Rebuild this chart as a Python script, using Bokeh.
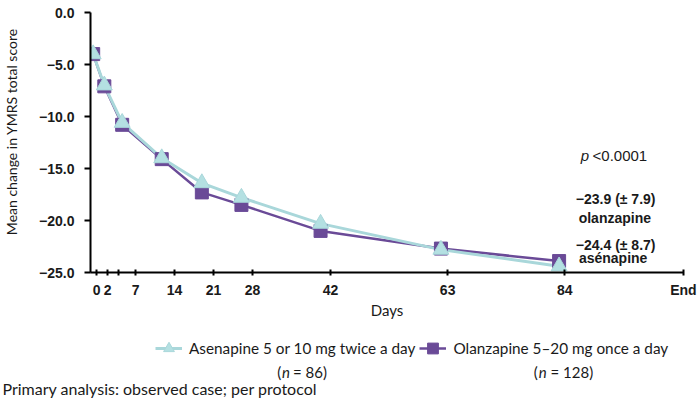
from bokeh.plotting import figure
from bokeh.layouts import column
from bokeh.models import FixedTicker, Label, Legend, LegendItem, Range1d
from bokeh.embed import file_html
from bokeh.resources import INLINE

# ---- data ----
days = [-0.6, 1.4, 4.6, 11.7, 18.9, 26.0, 40.2, 61.8, 83.0]
olanzapine = [-4.0, -7.1, -10.8, -14.1, -17.3, -18.5, -21.0, -22.7, -23.9]
asenapine = [-4.0, -7.0, -10.6, -14.0, -16.4, -17.8, -20.3, -22.8, -24.4]
END_DAY = 105.3
x_ticks = [0, 2, 4, 7, 14, 21, 28, 42, 63, 84, END_DAY]
x_tick_labels = ["0", "2", "", "7", "14", "21", "28", "42", "63", "84", "End"]
y_ticks = [0, -5, -10, -15, -20, -25]
y_tick_labels = ["0.0", "\u22125.0", "\u221210.0", "\u221215.0", "\u221220.0", "\u221225.0"]
series_names = ["Asenapine 5 or 10 mg twice a day", "Olanzapine 5\u201320 mg once a day"]
series_n = ["86", "128"]

PURPLE = "#6a4a97"
TEAL_LINE = "#a9d7da"
TEAL_FILL = "#b4e0e2"
TXT = "#1a1a1a"
BOLD = "Liberation Sans"
SANS = "Lato"

# ---------------- main chart ----------------
p = figure(width=697, height=321, output_backend="svg", toolbar_location=None,
           x_range=Range1d(-1.08, END_DAY + 0.02), y_range=Range1d(-25, 0),
           min_border_left=90, min_border_right=14, min_border_top=12, min_border_bottom=44)
p.frame_align = False
p.outline_line_color = None
p.grid.visible = False

for ax in (p.xaxis[0], p.yaxis[0]):
    ax.axis_line_width = 2
    ax.axis_line_color = "black"
    ax.major_tick_line_width = 2
    ax.major_tick_line_color = "black"
    ax.minor_tick_line_color = None
    ax.major_label_text_font = BOLD
    ax.major_label_text_font_style = "bold"
    ax.major_label_text_font_size = "14px"
    ax.major_label_text_color = TXT
    ax.axis_label_text_font = SANS
    ax.axis_label_text_font_style = "normal"
    ax.axis_label_text_font_size = "15px"
    ax.axis_label_text_color = TXT

p.yaxis.ticker = FixedTicker(ticks=y_ticks)
p.yaxis.major_label_overrides = {t: l for t, l in zip(y_ticks, y_tick_labels)}
p.yaxis.major_tick_in = 0
p.yaxis.major_tick_out = 6
p.yaxis.major_label_standoff = 10
p.yaxis.axis_label = "\u00a0" * 6 + "Mean change in YMRS total score"
p.yaxis.axis_label_text_font_size = "14px"
p.yaxis.axis_label_standoff = 16

p.xaxis.ticker = FixedTicker(ticks=x_ticks)
p.xaxis.major_label_overrides = {t: l for t, l in zip(x_ticks, x_tick_labels)}
p.xaxis.major_tick_in = 3
p.xaxis.major_tick_out = 3
p.xaxis.major_label_standoff = 6
p.xaxis.axis_label = "Days"
p.xaxis.axis_label_standoff = 0

p.line(days, olanzapine, line_color=PURPLE, line_width=2.5)
p.line(days, asenapine, line_color=TEAL_LINE, line_width=3)
p.scatter(days, olanzapine, marker="square", size=13, fill_color=PURPLE, line_color=PURPLE)
p.scatter(days, asenapine, marker="triangle", size=16, fill_color=TEAL_FILL, line_color=TEAL_LINE)


def lab(fig, x, y, text, font=BOLD, size="14px", style="bold", align="left", angle=0.0):
    fig.add_layout(Label(x=x, y=y, text=text, text_font=font, text_font_size=size,
                         text_font_style=style, text_align=align, text_baseline="middle",
                         text_color=TXT, angle=angle))


lab(p, 86.9, -13.77, "p", style="italic", size="15px")
lab(p, 89.0, -13.77, "<0.0001", style="normal", size="15px")
lab(p, 86.0, -17.9, "\u221223.9 (\u00b1 7.9)")
lab(p, 93.0, -19.78, "olanzapine", align="center")
lab(p, 86.0, -22.36, "\u221224.4 (\u00b1 8.7)")
lab(p, 86.55, -23.56, "asénapine")

# ---------------- legend + footnote strip ----------------
H2 = 80
q = figure(width=697, height=H2, output_backend="svg", toolbar_location=None,
           x_range=Range1d(0, 697), y_range=Range1d(H2, 0),
           x_axis_location=None, y_axis_location=None,
           min_border_left=0, min_border_right=0, min_border_top=0, min_border_bottom=0)
q.frame_align = False
q.outline_line_color = None
q.grid.visible = False

nan = [float("nan")]
as_line = q.line(nan, nan, line_color=TEAL_LINE, line_width=3)
as_pts = q.scatter(nan, nan, marker="triangle", fill_color=TEAL_FILL, line_color=TEAL_LINE)
ol_line = q.line(nan, nan, line_color=PURPLE, line_width=2.5)
ol_pts = q.scatter(nan, nan, marker="square", fill_color=PURPLE, line_color=PURPLE)

legend = Legend(items=[
    LegendItem(label=series_names[0], renderers=[as_line, as_pts]),
    LegendItem(label=series_names[1], renderers=[ol_line, ol_pts]),
], orientation="horizontal", location=(155, 38), padding=0, margin=0, spacing=4,
    glyph_width=27, glyph_height=30, label_standoff=7,
    border_line_alpha=0, background_fill_alpha=0,
    label_text_font=SANS, label_text_font_size="15.3px", label_text_color=TXT)
q.add_layout(legend)

for (xo, xn, xr), n in zip([(276.7, 281.5, 292.5), (533.3, 538.3, 550.0)], series_n):
    lab(q, xo, 50.7, "(", font=SANS, size="15px", style="normal")
    lab(q, xn, 50.7, "n", font=SANS, size="15px", style="italic")
    lab(q, xr, 50.7, "= " + n + ")", font=SANS, size="15px", style="normal")

lab(q, 2, 67.3, "Primary analysis: observed case; per protocol", font=SANS, size="16px",
    style="normal")

layout = column(p, q, spacing=0)
open("out.html", "w").write(file_html(layout, INLINE))
